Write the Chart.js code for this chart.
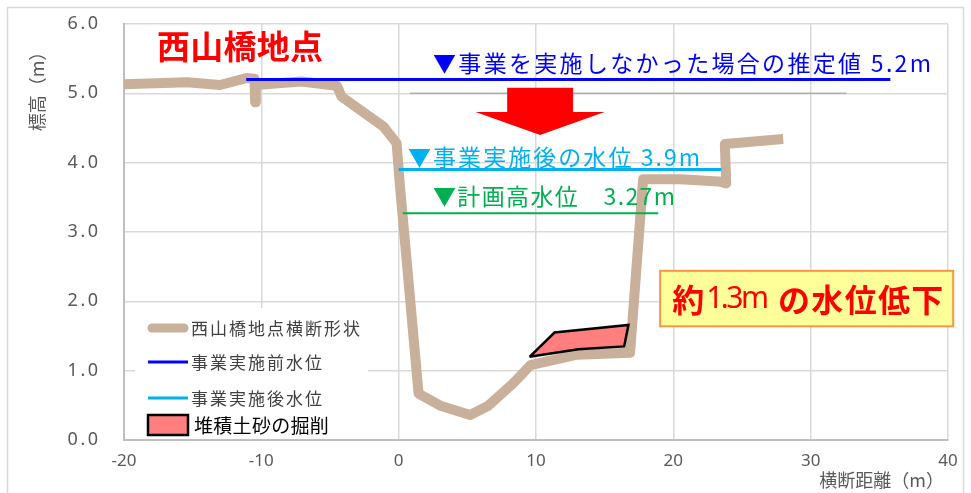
<!DOCTYPE html>
<html lang="ja">
<head>
<meta charset="utf-8">
<title>西山橋地点 横断図</title>
<script src="https://cdn.jsdelivr.net/npm/chart.js@4.4.1/dist/chart.umd.min.js"></script>
<style>
  html, body { margin: 0; padding: 0; background: #fff; }
  #wrap { position: relative; width: 971px; height: 493px; }
</style>
</head>
<body>
<div id="wrap"><canvas id="c" width="971" height="493"></canvas></div>
<script>
// ---- cross-section of the river bed at 西山橋 (distance m, elevation m) ----
const sectionX = [-20.0, -15.4, -13.0, -11.1, -10.5, -10.45, -10.4, -7.1, -4.5, -4.15, -1.1, -0.15, 0.1, 1.45, 3.1, 5.2, 6.5, 8.35, 9.6, 13.0, 16.85, 17.8, 20.5, 23.3, 23.85, 23.75, 28.0];
const sectionY = [5.13, 5.16, 5.12, 5.22, 5.21, 4.87, 5.12, 5.17, 5.11, 4.95, 4.52, 4.28, 3.65, 0.67, 0.49, 0.36, 0.49, 0.82, 1.08, 1.23, 1.26, 3.76, 3.76, 3.73, 3.70, 4.27, 4.34];

// ---- water levels (m) ----
const levelBefore = 5.2;   // estimated level without the works
const levelAfter = 3.9;    // level after the works
const levelPlan = 3.27;    // planned high water level
const beforeLevelX = [-11.1, 35.8];
const afterLevelX = [0.0, 23.5];
const planLevelX = [0.3, 18.9];

// ---- dredged sediment outline ----
const dredgeX = [9.53, 11.35, 16.73, 16.42, 13.08, 9.53];
const dredgeY = [1.20, 1.55, 1.66, 1.35, 1.31, 1.20];

// ---- reference line at 5.0 m ----
const refLineX = [0.83, 32.6];
const refLineY = [5.0, 5.0];

// ---- axis ticks ----
const xTicks = [-20, -10, 0, 10, 20, 30, 40];
const yTicks = [0, 1, 2, 3, 4, 5, 6];

const JP = '"Noto Sans CJK JP", "Noto Sans", sans-serif';
const NUM = '"Noto Sans", "Noto Sans CJK JP", sans-serif';

const pts = (xs, ys) => xs.map((x, i) => ({ x, y: ys[i] }));
const flat = (xs, v) => xs.map(x => ({ x, y: v }));

// draw text char by char with extra spacing, left aligned, baseline middle
function spacedText(ctx, text, x, y, spacing) {
  let cx = x;
  for (const ch of text) {
    ctx.fillText(ch, cx, y);
    cx += ctx.measureText(ch).width + spacing;
  }
  return cx - spacing;
}
function naturalWidth(ctx, text) {
  let w = 0;
  for (const ch of text) w += ctx.measureText(ch).width;
  return w;
}
function fitText(ctx, text, x, y, width) {
  const chars = [...text];
  const w = naturalWidth(ctx, text);
  const sp = chars.length > 1 ? (width - w) / (chars.length - 1) : 0;
  return spacedText(ctx, text, x, y, sp);
}

const overlay = {
  id: 'overlay',
  afterDatasetsDraw(chart) {
    const { ctx, scales: { x: xs, y: ys } } = chart;
    const X = v => xs.getPixelForValue(v);
    const Y = v => ys.getPixelForValue(v);
    ctx.save();
    ctx.textBaseline = 'middle';
    ctx.textAlign = 'left';

    // red downward arrow
    const ac = 10.3;
    ctx.fillStyle = '#ff0000';
    ctx.beginPath();
    ctx.moveTo(X(ac - 2.4), Y(5.08));
    ctx.lineTo(X(ac + 2.4), Y(5.08));
    ctx.lineTo(X(ac + 2.4), Y(4.73));
    ctx.lineTo(X(ac + 4.7), Y(4.73));
    ctx.lineTo(X(ac), Y(4.40));
    ctx.lineTo(X(ac - 4.7), Y(4.73));
    ctx.lineTo(X(ac - 2.4), Y(4.73));
    ctx.closePath();
    ctx.fill();

    // station title
    ctx.fillStyle = '#ff0000';
    ctx.font = 'bold 33px ' + JP;
    fitText(ctx, '西山橋地点', X(-17.6), Y(5.68), 166);

    // water level labels
    ctx.font = '23px ' + JP;
    ctx.fillStyle = '#0000ff';
    fitText(ctx, '▼事業を実施しなかった場合の推定値 ' + levelBefore.toFixed(1) + 'm', X(2.5), Y(5.44), 498);
    ctx.fillStyle = '#00b0f0';
    fitText(ctx, '▼事業実施後の水位 ' + levelAfter.toFixed(1) + 'm', X(0.68), Y(4.08), 292);
    ctx.fillStyle = '#00b050';
    fitText(ctx, '▼計画高水位　' + levelPlan.toFixed(2) + 'm', X(2.5), Y(3.52), 242);

    // callout box
    const bx0 = X(19.04), bx1 = X(40.38), by0 = Y(2.44), by1 = Y(1.64);
    ctx.fillStyle = '#ffff99';
    ctx.fillRect(bx0, by0, bx1 - bx0, by1 - by0);
    ctx.strokeStyle = '#f79646';
    ctx.lineWidth = 2;
    ctx.strokeRect(bx0, by0, bx1 - bx0, by1 - by0);
    const drop = (levelBefore - levelAfter).toFixed(1);
    const cy = (by0 + by1) / 2 + 1;
    ctx.fillStyle = '#ff0000';
    let cx = bx0 + 12;
    ctx.font = 'bold 32px ' + JP;
    ctx.fillText('約', cx, cy); cx += ctx.measureText('約').width + 2;
    ctx.font = '30px ' + NUM;
    cx = spacedText(ctx, drop + 'm', cx, cy, -2.5);
    ctx.font = 'bold 32px ' + JP;
    fitText(ctx, 'の水位低下', cx + 9, cy, bx1 - 10 - (cx + 9));

    // legend
    ctx.fillStyle = '#ffffff';
    ctx.fillRect(135, 308, 233, 131);
    const lx0 = 148, lx1 = 188, tx = 191;
    ctx.lineCap = 'round';
    ctx.strokeStyle = '#c9b09a'; ctx.lineWidth = 9;
    ctx.beginPath(); ctx.moveTo(lx0 + 4, 328); ctx.lineTo(lx1 - 4, 328); ctx.stroke();
    ctx.lineCap = 'butt';
    ctx.strokeStyle = '#0000ff'; ctx.lineWidth = 3;
    ctx.beginPath(); ctx.moveTo(lx0, 362); ctx.lineTo(lx1, 362); ctx.stroke();
    ctx.strokeStyle = '#00b0f0'; ctx.lineWidth = 3;
    ctx.beginPath(); ctx.moveTo(lx0, 398); ctx.lineTo(lx1, 398); ctx.stroke();
    ctx.fillStyle = '#ff7f7f';
    ctx.fillRect(lx0, 415, lx1 - lx0, 20);
    ctx.strokeStyle = '#000000'; ctx.lineWidth = 2.5;
    ctx.strokeRect(lx0, 415, lx1 - lx0, 20);
    ctx.font = '17px ' + JP;
    ctx.fillStyle = '#404040';
    spacedText(ctx, '西山橋地点横断形状', tx, 329, 2);
    spacedText(ctx, '事業実施前水位', tx, 363, 2);
    spacedText(ctx, '事業実施後水位', tx, 399, 2);
    ctx.font = '19px ' + JP;
    ctx.fillStyle = '#000000';
    spacedText(ctx, '堆積土砂の掘削', 194, 426, 0.3);

    ctx.restore();
  },
  afterDraw(chart) {
    const { ctx, scales: { y: ys } } = chart;
    ctx.save();
    ctx.textBaseline = 'middle';
    // y tick labels
    ctx.font = '18px ' + NUM;
    ctx.fillStyle = '#595959';
    ys.ticks.forEach(t => {
      const s = t.value.toFixed(1);
      const w = naturalWidth(ctx, s) + 2.5 * (s.length - 1);
      spacedText(ctx, s, 98 - w, ys.getPixelForValue(t.value), 2.5);
    });
    // axis titles
    ctx.font = '18px ' + JP;
    ctx.save();
    ctx.translate(37, 87);
    ctx.rotate(-Math.PI / 2);
    ctx.textAlign = 'center';
    ctx.fillText('標高（m）', 0, 0);
    ctx.restore();
    ctx.textAlign = 'right';
    ctx.fillText('横断距離（m）', 944, 480);
    // outer frame
    ctx.strokeStyle = '#d9d9d9';
    ctx.lineWidth = 1.5;
    ctx.strokeRect(7.5, 7.5, 956, 500);
    ctx.restore();
  }
};

new Chart(document.getElementById('c'), {
  type: 'line',
  data: {
    datasets: [
      {
        label: '事業実施前水位',
        data: flat(beforeLevelX, levelBefore),
        borderColor: '#0000ff', borderWidth: 3, pointRadius: 0, order: 1
      },
      {
        label: '事業実施後水位',
        data: flat(afterLevelX, levelAfter),
        borderColor: '#00b0f0', borderWidth: 3, pointRadius: 0, order: 2
      },
      {
        label: '計画高水位',
        data: flat(planLevelX, levelPlan),
        borderColor: '#00b050', borderWidth: 2, pointRadius: 0, order: 3
      },
      {
        label: '堆積土砂の掘削',
        data: pts(dredgeX, dredgeY),
        borderColor: '#000000', borderWidth: 2.5, backgroundColor: '#ff7f7f',
        fill: 'shape', pointRadius: 0, borderJoinStyle: 'miter', order: 4
      },
      {
        label: '西山橋地点横断形状',
        data: pts(sectionX, sectionY),
        borderColor: '#c9b09a', borderWidth: 10, pointRadius: 0,
        borderJoinStyle: 'round', borderCapStyle: 'butt', order: 5
      },
      {
        label: '5.0m',
        data: pts(refLineX, refLineY),
        borderColor: 'rgba(140,140,140,0.6)', borderWidth: 1.5, pointRadius: 0, order: 6
      }
    ]
  },
  options: {
    responsive: false,
    animation: false,
    events: [],
    layout: { padding: { top: 24, right: 23, left: 0, bottom: 0 } },
    plugins: { legend: { display: false }, tooltip: { enabled: false } },
    scales: {
      x: {
        type: 'linear', min: -20, max: 40,
        afterBuildTicks: s => { s.ticks = xTicks.map(v => ({ value: v })); },
        afterFit: s => { s.height = 53; },
        grid: { color: '#d9d9d9', lineWidth: 1.5, drawTicks: false },
        border: { color: '#bfbfbf', width: 2 },
        ticks: { color: '#595959', font: { family: NUM, size: 17 }, padding: 11, maxRotation: 0, callback: v => String(v) }
      },
      y: {
        type: 'linear', min: 0, max: 6,
        afterBuildTicks: s => { s.ticks = yTicks.map(v => ({ value: v })); },
        afterFit: s => { s.width = 124; },
        grid: { color: '#d9d9d9', lineWidth: 1.5, drawTicks: false },
        border: { color: '#bfbfbf', width: 2 },
        ticks: { display: false }
      }
    }
  },
  plugins: [overlay]
});
</script>
</body>
</html>
